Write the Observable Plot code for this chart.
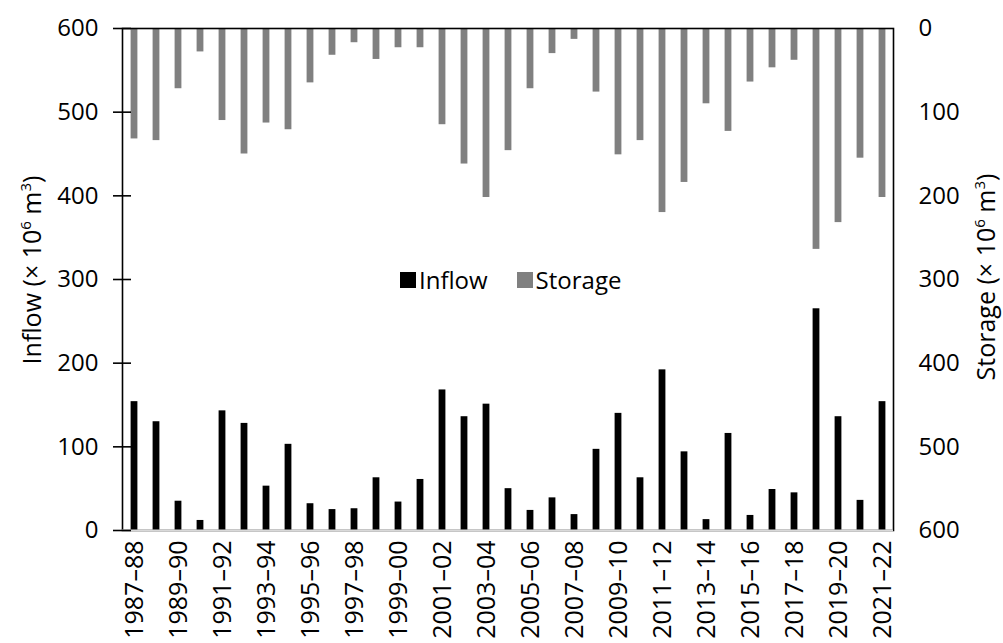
<!DOCTYPE html>
<html><head><meta charset="utf-8">
<script src="https://cdn.jsdelivr.net/npm/d3@7"></script>
<script src="https://cdn.jsdelivr.net/npm/@observablehq/plot@0.6"></script>
<style>
body{margin:0;background:#fff;font-family:"Open Sans",sans-serif;}
#wrap{position:relative;width:1003px;height:643px;overflow:hidden;background:#fff;}
.ytitle{position:absolute;font-size:25px;color:#000;white-space:nowrap;transform:translate(-50%,-50%) rotate(-90deg);line-height:1;}
.ytitle sup{font-size:15px;vertical-align:top;position:relative;top:-1px;}
#legend{position:absolute;left:400px;top:264px;display:flex;align-items:center;font-size:24px;color:#000;line-height:32px;}
#legend .sw{display:inline-block;width:16px;height:16px;margin-right:3px;}
#legend .item{display:flex;align-items:center;margin-right:29px;}
</style></head><body>
<div id="wrap"></div>
<script>
const years = ["1987–88","1988–89","1989–90","1990–91","1991–92","1992–93","1993–94","1994–95","1995–96","1996–97","1997–98","1998–99","1999–00","2000–01","2001–02","2002–03","2003–04","2004–05","2005–06","2006–07","2007–08","2008–09","2009–10","2010–11","2011–12","2012–13","2013–14","2014–15","2015–16","2016–17","2017–18","2018–19","2019–20","2020–21","2021–22"];
const inflow = [154,130,35,12,143,128,53,103,32,25,26,63,34,61,168,136,151,50,24,39,19,97,140,63,192,94,13,116,18,49,45,265,136,36,154];
const storage = [132,134,72,28,110,150,113,121,65,32,17,37,23,23,115,162,202,146,72,30,13,76,151,134,220,184,90,123,64,47,38,264,232,155,202];
const yTicks = [0,100,200,300,400,500,600];
const storageMax = 600;
const labelTicks = years.filter((d,i)=>i%2===0);

const data = years.map((y,i)=>({year:y, inflow:inflow[i], storage:storage[i]}));

const plot = Plot.plot({
  width:1003, height:643,
  marginLeft:122, marginRight:110, marginTop:28, marginBottom:113,
  style:{fontFamily:"Open Sans", fontSize:"24px", color:"#000", background:"#fff", overflow:"visible"},
  x:{domain:years, padding:0},
  y:{domain:[0,600]},
  marks:[
    Plot.barY(data,{x:"year", y:"inflow", fill:"#000", insetLeft:7.6, insetRight:7.6}),
    Plot.barY(data,{x:"year", y1:()=>storageMax, y2:d=>storageMax-d.storage, fill:"#808080", insetLeft:7.6, insetRight:7.6}),
    Plot.frame({stroke:"#000", strokeWidth:1.6}),
    Plot.ruleY([0],{stroke:"#d9d9d9", strokeWidth:2}),
    Plot.axisY({anchor:"left", ticks:yTicks, tickSize:9, tickPadding:15, label:null, strokeWidth:1.6, fontSize:24}),
    Plot.axisY({anchor:"left", ticks:yTicks, tickSize:9, dx:9, tickFormat:()=>"", label:null, strokeWidth:1.6}),
    Plot.axisY({anchor:"right", ticks:yTicks, tickSize:0, tickPadding:25, tickFormat:d=>storageMax-d, label:null, fontSize:24}),
    Plot.axisX({ticks:labelTicks, tickRotate:-90, tickSize:0, tickPadding:10, label:null, fontSize:25})
  ]
});
const wrap = document.getElementById("wrap");
wrap.appendChild(plot);

const lt = document.createElement("div");
lt.className = "ytitle";
lt.style.left = "31px"; lt.style.top = "270px";
lt.innerHTML = "Inflow (× 10<sup>6</sup> m<sup>3</sup>)";
wrap.appendChild(lt);

const rt = document.createElement("div");
rt.className = "ytitle";
rt.style.left = "985px"; rt.style.top = "277px";
rt.innerHTML = "Storage (× 10<sup>6</sup> m<sup>3</sup>)";
wrap.appendChild(rt);

const lg = document.createElement("div");
lg.id = "legend";
lg.innerHTML = '<span class="item"><span class="sw" style="background:#000"></span>Inflow</span><span class="item"><span class="sw" style="background:#808080"></span>Storage</span>';
wrap.appendChild(lg);
</script>
</body></html>
